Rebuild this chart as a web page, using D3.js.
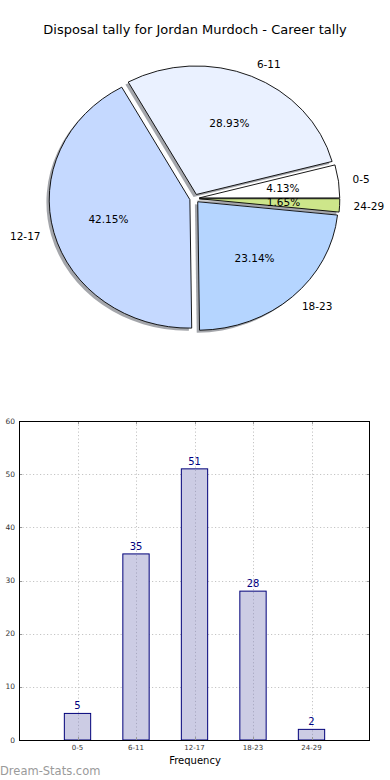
<!DOCTYPE html>
<html><head><meta charset="utf-8">
<script src="https://cdn.jsdelivr.net/npm/d3@7"></script>
<style>body{margin:0;background:#fff}svg{display:block}text{font-family:"DejaVu Sans",sans-serif}</style>
</head><body>
<svg id="c" width="390" height="780"></svg>
<script>
const titleText = "Disposal tally for Jordan Murdoch - Career tally";
const categories = ["0-5", "6-11", "12-17", "18-23", "24-29"];
const counts = [5, 35, 51, 28, 2];
const pieColors = ["#ffffff", "#eaf1ff", "#c5d9ff", "#b5d5ff", "#cde68a"];
const yTicks = [0, 10, 20, 30, 40, 50, 60];
const xLabel = "Frequency";
const watermark = "Dream-Stats.com";

const svg = d3.select("#c");

// Title
svg.append("text").attr("x", 195).attr("y", 34).attr("text-anchor", "middle")
  .attr("font-size", 13).attr("fill", "#000").text(titleText);

// ---- Pie (elliptical, matplotlib-like) ----
const cx = 194.5, cy = 198.5, rx = 140.5, ry = 128.5;
const explode = 0.034, labelDist = 1.1, pctDist = 0.6;
const total = d3.sum(counts);
const pie = d3.pie().sort(null).startAngle(Math.PI / 2).endAngle(Math.PI / 2 - 2 * Math.PI);
const arcs = pie(counts);
const unitArc = d3.arc().innerRadius(0).outerRadius(1);
const g = svg.append("g");
const mid = a => Math.PI / 2 - (a.startAngle + a.endAngle) / 2; // math angle, CCW from east
const centerOf = a => {
  const t = mid(a);
  return [cx + explode * rx * Math.cos(t), cy - explode * ry * Math.sin(t)];
};
// shadows
g.selectAll("path.sh").data(arcs).join("path").attr("class", "sh")
  .attr("d", unitArc)
  .attr("transform", d => { const [x, y] = centerOf(d); return `translate(${x - 0.02 * rx},${y + 0.02 * ry}) scale(${rx},${ry})`; })
  .attr("fill", "#9a9ca2").attr("opacity", 0.9);
// wedges
g.selectAll("path.w").data(arcs).join("path").attr("class", "w")
  .attr("d", unitArc)
  .attr("transform", d => { const [x, y] = centerOf(d); return `translate(${x},${y}) scale(${rx},${ry})`; })
  .attr("fill", (d, i) => pieColors[i]).attr("stroke", "#000").attr("stroke-width", 0.9)
  .attr("vector-effect", "non-scaling-stroke").attr("stroke-linejoin", "miter");
// labels
arcs.forEach((d, i) => {
  const t = mid(d); const [x, y] = centerOf(d);
  const lx = x + labelDist * rx * Math.cos(t), ly = y - labelDist * ry * Math.sin(t);
  svg.append("text").attr("x", lx).attr("y", ly).attr("dy", "0.35em")
    .attr("text-anchor", Math.cos(t) >= 0 ? "start" : "end")
    .attr("font-size", 10.5).text(categories[i]);
  const px = x + pctDist * rx * Math.cos(t), py = y - pctDist * ry * Math.sin(t);
  svg.append("text").attr("x", px).attr("y", py).attr("dy", "0.35em")
    .attr("text-anchor", "middle").attr("font-size", 10.5)
    .text((100 * counts[i] / total).toFixed(2) + "%");
});

// ---- Bar chart ----
const L = 19, R = 370, T = 421, B = 740;
const x = d3.scaleLinear().domain([-1, 5]).range([L, R]);
const y = d3.scaleLinear().domain([0, 60]).range([B, T]);
const bw = 0.45;
const bg = svg.append("g");
// grid
const gridStyle = s => s.attr("stroke", "#c4c4c4").attr("stroke-width", 1).attr("stroke-dasharray", "1.2,2.3");
bg.selectAll("line.gy").data(yTicks).join("line").attr("class", "gy")
  .attr("x1", L).attr("x2", R).attr("y1", d => Math.round(y(d)) + 0.5).attr("y2", d => Math.round(y(d)) + 0.5).call(gridStyle);
bg.selectAll("line.gx").data(categories).join("line").attr("class", "gx")
  .attr("x1", (d, i) => Math.round(x(i)) + 0.5).attr("x2", (d, i) => Math.round(x(i)) + 0.5)
  .attr("y1", T).attr("y2", B).call(gridStyle);
// bars
bg.selectAll("rect.bar").data(counts).join("rect").attr("class", "bar")
  .attr("x", (d, i) => x(i - bw / 2)).attr("width", x(bw) - x(0))
  .attr("y", d => y(d)).attr("height", d => B - y(d))
  .attr("fill", "#ccccE4").attr("stroke", "#00007a").attr("stroke-width", 1);
// vertical grid visible through bars
bg.selectAll("line.gx2").data(categories).join("line").attr("class", "gx2")
  .attr("x1", (d, i) => Math.round(x(i)) + 0.5).attr("x2", (d, i) => Math.round(x(i)) + 0.5)
  .attr("y1", (d, i) => y(counts[i]) + 1).attr("y2", B)
  .attr("stroke", "#a8a8c0").attr("stroke-dasharray", "1.2,2.3");
// bar value labels
bg.selectAll("text.val").data(counts).join("text").attr("class", "val")
  .attr("x", (d, i) => x(i)).attr("y", d => y(d) - 4).attr("text-anchor", "middle")
  .attr("font-size", 10).attr("fill", "#000080").text(d => d);
// ticks (inward, gray)
yTicks.forEach(v => {
  const yy = Math.round(y(v)) + 0.5;
  bg.append("line").attr("x1", L).attr("x2", L + 3).attr("y1", yy).attr("y2", yy).attr("stroke", "#999");
  bg.append("line").attr("x1", R - 3).attr("x2", R).attr("y1", yy).attr("y2", yy).attr("stroke", "#999");
});
categories.forEach((c, i) => {
  const xx = Math.round(x(i)) + 0.5;
  bg.append("line").attr("x1", xx).attr("x2", xx).attr("y1", B - 3).attr("y2", B).attr("stroke", "#999");
  bg.append("line").attr("x1", xx).attr("x2", xx).attr("y1", T).attr("y2", T + 3).attr("stroke", "#999");
});
// frame
bg.append("rect").attr("x", L + 0.5).attr("y", T + 0.5).attr("width", R - L - 1).attr("height", B - T)
  .attr("fill", "none").attr("stroke", "#000").attr("stroke-width", 1);
// y tick labels
bg.selectAll("text.yt").data(yTicks).join("text").attr("class", "yt")
  .attr("x", 15).attr("y", d => y(d)).attr("dy", "0.35em").attr("text-anchor", "end")
  .attr("font-size", 7.5).attr("fill", "#333").text(d => d);
// x tick labels
bg.selectAll("text.xt").data(categories).join("text").attr("class", "xt")
  .attr("x", (d, i) => x(i)).attr("y", B + 10).attr("text-anchor", "middle")
  .attr("font-size", 7).attr("fill", "#333").text(d => d);
// x label
svg.append("text").attr("x", 195).attr("y", 764).attr("text-anchor", "middle")
  .attr("font-size", 10).attr("fill", "#000").text(xLabel);
// watermark
svg.append("text").attr("x", 0).attr("y", 775).attr("font-size", 11.5)
  .attr("fill", "#9a9a9a").text(watermark);
</script>
</body></html>
